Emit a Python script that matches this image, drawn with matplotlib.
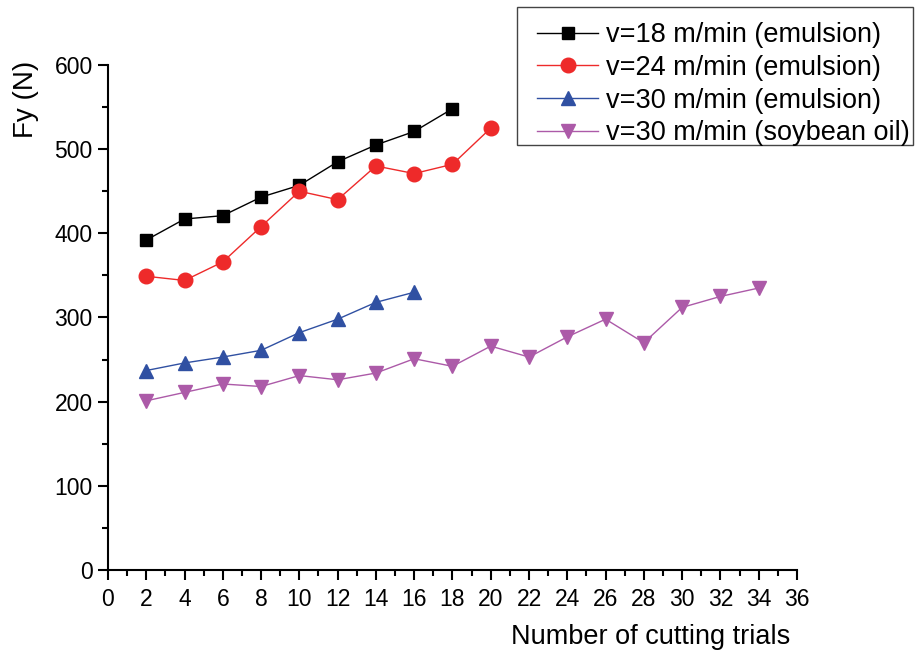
import matplotlib.pyplot as plt
from matplotlib.patches import Rectangle
from matplotlib.ticker import MultipleLocator

plt.rcParams['font.family'] = ['Liberation Sans', 'DejaVu Sans']

# Данные
trials_18 = [2, 4, 6, 8, 10, 12, 14, 16, 18]
fy_18 = [392, 417, 421, 443, 457, 485, 505, 521, 548]

trials_24 = [2, 4, 6, 8, 10, 12, 14, 16, 18, 20]
fy_24 = [349, 344, 366, 408, 450, 440, 480, 471, 482, 525]

trials_30 = [2, 4, 6, 8, 10, 12, 14, 16]
fy_30 = [237, 246, 253, 261, 282, 298, 318, 330]

trials_soy = [2, 4, 6, 8, 10, 12, 14, 16, 18, 20, 22, 24, 26, 28, 30, 32, 34]
fy_soy = [201, 211, 221, 218, 231, 226, 234, 251, 242, 266, 253, 277, 298,
          270, 312, 325, 335]

labels = ['v=18 m/min (emulsion)', 'v=24 m/min (emulsion)',
          'v=30 m/min (emulsion)', 'v=30 m/min (soybean oil)']

fig = plt.figure(figsize=(9.15, 6.57), dpi=100)
ax = fig.add_axes([0.118, 0.1324, 0.753, 0.7687])

ax.plot(trials_18, fy_18, color='black', marker='s', markersize=8, linewidth=1, label=labels[0])
ax.plot(trials_24, fy_24, color='#ee2a2a', marker='o', markersize=10.5, linewidth=1, label=labels[1])
ax.plot(trials_30, fy_30, color='#3050a2', marker='^', markersize=10.5, linewidth=1, label=labels[2])
ax.plot(trials_soy, fy_soy, color='#ac5aa8', marker='v', markersize=10.5, linewidth=1, label=labels[3])

ax.set_xlim(0, 36)
ax.set_ylim(0, 600)
ax.xaxis.set_major_locator(MultipleLocator(2))
ax.xaxis.set_minor_locator(MultipleLocator(1))
ax.yaxis.set_major_locator(MultipleLocator(100))
ax.yaxis.set_minor_locator(MultipleLocator(50))

for side in ['top', 'right']:
    ax.spines[side].set_visible(False)
for side in ['left', 'bottom']:
    ax.spines[side].set_linewidth(1.5)

ax.tick_params(which='major', direction='out', length=7, width=1.5, labelsize=16.5, pad=4)
ax.tick_params(axis='x', which='major', pad=6)
ax.tick_params(which='minor', direction='out', length=4, width=1.5)

fig.text(0.711, 0.03, 'Number of cutting trials', ha='center', va='center', fontsize=19.5)
fig.text(0.028, 0.849, 'Fy (N)', ha='center', va='center', rotation=90, fontsize=20)

# Легенда без рамки + отдельная рамка
leg = fig.legend(loc='upper left', bbox_to_anchor=(517 / 915, 1 - 2 / 657),
                 fontsize=19.5, frameon=False, handlelength=2.25,
                 labelspacing=0.25, borderaxespad=0, borderpad=0.74, handletextpad=0.28)
fig.patches.append(Rectangle((517 / 915, 1 - 145 / 657), 396 / 915, 138 / 657,
                             transform=fig.transFigure, fill=False,
                             edgecolor='#444444', linewidth=1))

fig.savefig('out.png', dpi=100)
